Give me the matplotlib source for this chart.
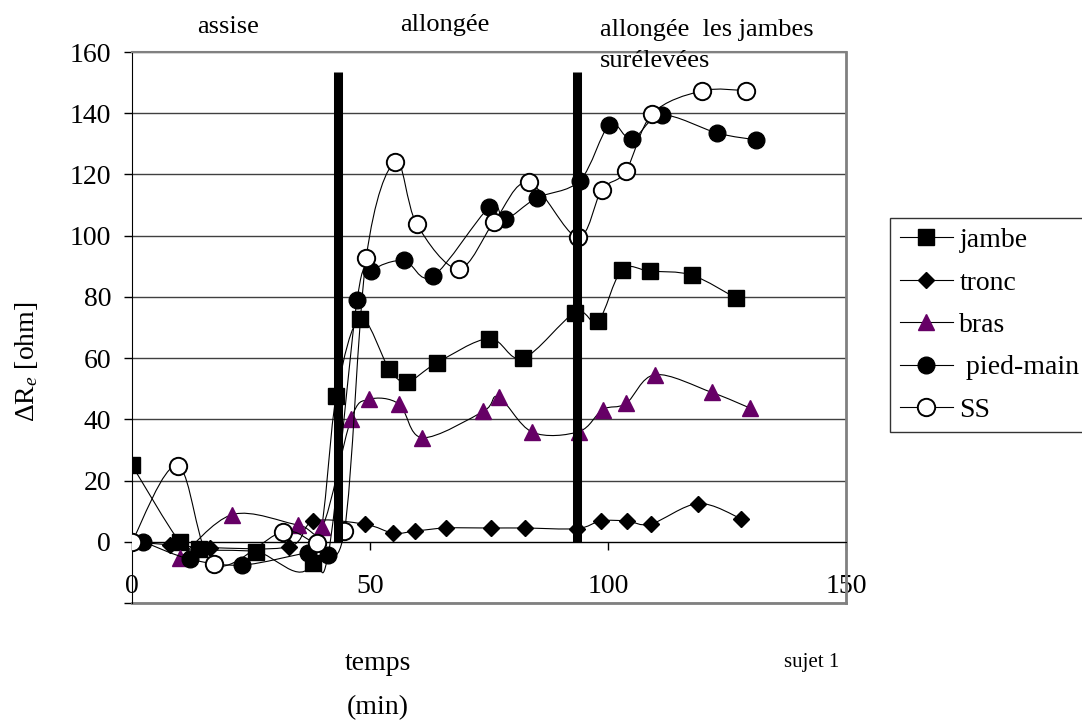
import numpy as np
import matplotlib
matplotlib.use('Agg')
from matplotlib import pyplot as plt
from matplotlib.path import Path
from matplotlib.patches import PathPatch
from matplotlib.lines import Line2D

plt.rcParams['font.family'] = ['Liberation Serif', 'DejaVu Serif']
plt.rcParams['mathtext.fontset'] = 'custom'
plt.rcParams['mathtext.rm'] = 'Liberation Serif'
plt.rcParams['mathtext.it'] = 'Liberation Serif:italic'

# time (min) and delta Re (ohm) for each segment
t_jambe = [0, 10, 14, 26, 38, 42.9, 47.9, 54, 57.8, 64.1, 75, 82.1, 93.1, 97.9, 102.9, 108.8, 117.6, 126.9]
r_jambe = [25, 0, -2.5, -3.2, -6.8, 47.5, 72.9, 56.6, 52.3, 58.5, 66.4, 59.9, 74.9, 72, 88.8, 88.4, 87.1, 79.6]

t_tronc = [0, 8, 16.4, 33, 38.1, 49, 54.9, 59.5, 66, 75.5, 82.5, 93.5, 98.5, 104, 109, 119, 128]
r_tronc = [0, -1, -1.9, -1.6, 6.7, 5.7, 2.8, 3.5, 4.5, 4.5, 4.5, 4.3, 6.8, 6.8, 5.8, 12.5, 7.5]

t_bras = [10.1, 21.1, 34.9, 40, 46, 49.8, 56.1, 61, 73.8, 77, 84.1, 93.9, 98.9, 103.8, 109.9, 121.8, 129.8]
r_bras = [-5.4, 8.9, 5.5, 4.9, 40, 46.5, 45, 34, 42.6, 47.3, 35.8, 36, 43.2, 45.2, 54.6, 48.8, 43.7]

t_pied = [2.4, 12.2, 23.2, 37, 41.2, 47.3, 50.2, 57.1, 63.2, 75.1, 78.4, 85, 94.1, 100.3, 105, 111.3, 123, 131.1]
r_pied = [0, -5.7, -7.6, -3.6, -4.3, 79.1, 88.3, 91.9, 86.7, 109.3, 105.4, 112.3, 118, 136.2, 131.5, 139.4, 133.5, 131.3]

t_ss = [0, 9.6, 17.2, 31.7, 38.9, 44.6, 49.2, 55.3, 59.8, 68.6, 76.1, 83.3, 93.6, 98.7, 103.7, 109.3, 119.7, 128.9]
r_ss = [0, 24.9, -7.4, 3.3, -0.3, 3.5, 92.7, 124.2, 103.8, 89.2, 104.6, 117.4, 99.5, 115, 121, 139.8, 147.3, 147.4]

# posture changes
t_change = [43.2, 93.4]
bar_top = 153.5

phases = ['assise', 'allongée', 'allongée  les jambes', 'surélevées']
x_ticks = [0, 50, 100, 150]
y_ticks = np.arange(-20, 161, 20)

W, H = 1082, 720


def smooth_path(x, y):
    # Excel style smoothed line through the points
    pts = np.column_stack([x, y]).astype(float)
    n = len(pts)
    verts = [pts[0]]
    codes = [Path.MOVETO]
    for i in range(n - 1):
        p0 = pts[max(i - 1, 0)]
        p1 = pts[i]
        p2 = pts[i + 1]
        p3 = pts[min(i + 2, n - 1)]
        verts += [p1 + (p2 - p0) / 6, p2 - (p3 - p1) / 6, p2]
        codes += [Path.CURVE4] * 3
    return Path(verts, codes)


def main():
    fig = plt.figure(figsize=(W / 100, H / 100), dpi=100)
    ax = fig.add_axes([132 / W, 1 - 603 / H, (846 - 132) / W, (603 - 52) / H])

    styles = [
        ('jambe', t_jambe, r_jambe, dict(marker='s', ms=11, mfc='black', mec='black')),
        ('tronc', t_tronc, r_tronc, dict(marker='D', ms=8, mfc='black', mec='black')),
        ('bras', t_bras, r_bras, dict(marker='^', ms=12, mfc='#660066', mec='#660066')),
        (' pied-main', t_pied, r_pied, dict(marker='o', ms=12, mfc='black', mec='black')),
        ('SS', t_ss, r_ss, dict(marker='o', ms=12.5, mfc='white', mec='black', mew=1.4)),
    ]

    handles = []
    for k, (name, t, r, st) in enumerate(styles):
        ax.add_patch(PathPatch(smooth_path(t, r), fc='none', ec='black', lw=0.8, zorder=3 + k))
        ax.plot(t, r, ls='none', zorder=3.5 + k, **st)
        handles.append(Line2D([], [], color='black', lw=0.8, label=name, **st))

    ax.vlines(t_change, 0, bar_top, color='black', lw=6.5, zorder=10)

    ax.set_xlim(0, 150)
    ax.set_ylim(-20, 160)

    ax.set_yticks(y_ticks)
    ax.set_yticklabels([''] + [str(v) for v in y_ticks[1:]])
    ax.set_xticks(x_ticks)
    ax.set_xticklabels([str(v) for v in x_ticks])
    ax.tick_params(axis='y', direction='out', length=6, width=1, pad=9, labelsize=20)
    ax.tick_params(axis='x', direction='out', length=6, width=1, pad=17, labelsize=20)

    ax.yaxis.grid(True, color='#404040', lw=1)
    ax.set_axisbelow(True)

    ax.spines['bottom'].set_position(('data', 0))
    ax.spines['bottom'].set_color('black')
    ax.spines['left'].set_color('black')
    ax.spines['top'].set_color('#808080')
    ax.spines['right'].set_color('#808080')
    ax.spines['top'].set_linewidth(1.5)
    ax.spines['right'].set_linewidth(2)
    ax.axhline(-20, color='#808080', lw=2, clip_on=False, zorder=1)

    # phase labels above the plot
    fig.text(228 / W, 1 - 27 / H, phases[0], ha='center', va='center', fontsize=19)
    fig.text(445 / W, 1 - 25 / H, phases[1], ha='center', va='center', fontsize=19)
    fig.text(600 / W, 1 - 30 / H, phases[2], ha='left', va='center', fontsize=19)
    fig.text(600 / W, 1 - 61 / H, phases[3], ha='left', va='center', fontsize=19)

    fig.text(27 / W, 1 - 362 / H, r'$\mathit{Δ}$R$_{\mathit{e}}$ [ohm]', rotation=90,
             ha='center', va='center', fontsize=20)
    fig.text(378 / W, 1 - 663 / H, 'temps', ha='center', va='center', fontsize=20)
    fig.text(378 / W, 1 - 708 / H, '(min)', ha='center', va='center', fontsize=20)
    fig.text(812 / W, 1 - 663 / H, 'sujet 1', ha='center', va='center', fontsize=15)

    leg = fig.legend(handles=handles, loc='upper left', bbox_to_anchor=(890 / W, 1 - 218 / H),
                     frameon=True, fancybox=False, fontsize=20, handlelength=1.9,
                     handletextpad=0.25, labelspacing=0.61, borderpad=0.35, borderaxespad=0)
    leg.get_frame().set_edgecolor('black')
    leg.get_frame().set_linewidth(1)

    fig.savefig('out.png', dpi=100)


if __name__ == '__main__':
    main()
